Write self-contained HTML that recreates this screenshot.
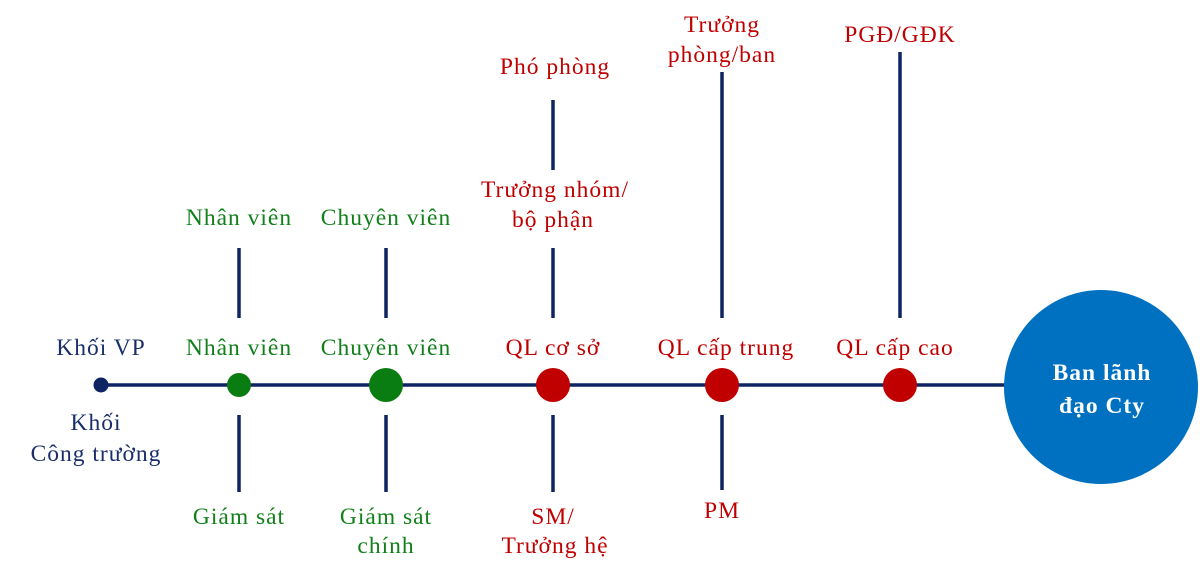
<!DOCTYPE html>
<html><head><meta charset="utf-8"><style>
html,body{margin:0;padding:0;background:#fff;width:1200px;height:574px;overflow:hidden}
svg text{font-family:"Liberation Serif","DejaVu Serif",serif;font-size:23.5px;letter-spacing:1px;text-anchor:middle}
.b{fill:#1a2f6a}.g{fill:#11801a}.r{fill:#c00000}
</style></head><body>
<svg width="1200" height="574" viewBox="0 0 1200 574">
<g stroke="#0f2462" stroke-width="3.5">
<line x1="101" y1="385" x2="1010" y2="385"/>
<line x1="239" y1="248" x2="239" y2="318"/><line x1="239" y1="415" x2="239" y2="492"/>
<line x1="386" y1="248" x2="386" y2="318"/><line x1="386" y1="415" x2="386" y2="492"/>
<line x1="553" y1="100" x2="553" y2="170"/><line x1="553" y1="248" x2="553" y2="318"/><line x1="553" y1="415" x2="553" y2="492"/>
<line x1="722" y1="72" x2="722" y2="318"/><line x1="722" y1="415" x2="722" y2="490"/>
<line x1="900" y1="52" x2="900" y2="318"/>
</g>
<circle cx="101" cy="385" r="7.5" fill="#0f2462"/>
<circle cx="239" cy="385" r="12" fill="#0a7d12"/>
<circle cx="386" cy="385" r="17" fill="#0a7d12"/>
<circle cx="553" cy="385" r="17" fill="#c00000"/>
<circle cx="722" cy="385" r="17" fill="#c00000"/>
<circle cx="900" cy="385" r="17" fill="#c00000"/>
<circle cx="1101" cy="387" r="97" fill="#0070c0"/>
<text x="1102" y="380" style="font-weight:bold;fill:#fff">Ban lãnh</text>
<text x="1102" y="413" style="font-weight:bold;fill:#fff">đạo Cty</text>
<text class="b" x="101" y="355">Khối VP</text>
<text class="b" x="96" y="430">Khối</text>
<text class="b" x="96" y="461">Công trường</text>
<text class="g" x="239" y="225">Nhân viên</text>
<text class="g" x="239" y="355">Nhân viên</text>
<text class="g" x="239" y="524">Giám sát</text>
<text class="g" x="386" y="225">Chuyên viên</text>
<text class="g" x="386" y="355">Chuyên viên</text>
<text class="g" x="386" y="524">Giám sát</text>
<text class="g" x="386" y="553">chính</text>
<text class="r" x="555" y="74">Phó phòng</text>
<text class="r" x="555" y="197">Trưởng nhóm/</text>
<text class="r" x="553" y="227">bộ phận</text>
<text class="r" x="553" y="355">QL cơ sở</text>
<text class="r" x="553" y="524">SM/</text>
<text class="r" x="555" y="553">Trưởng hệ</text>
<text class="r" x="722" y="32">Trưởng</text>
<text class="r" x="722" y="62">phòng/ban</text>
<text class="r" x="726" y="355">QL cấp trung</text>
<text class="r" x="722" y="518">PM</text>
<text class="r" x="900" y="42">PGĐ/GĐK</text>
<text class="r" x="895" y="355">QL cấp cao</text>
</svg>
</body></html>
